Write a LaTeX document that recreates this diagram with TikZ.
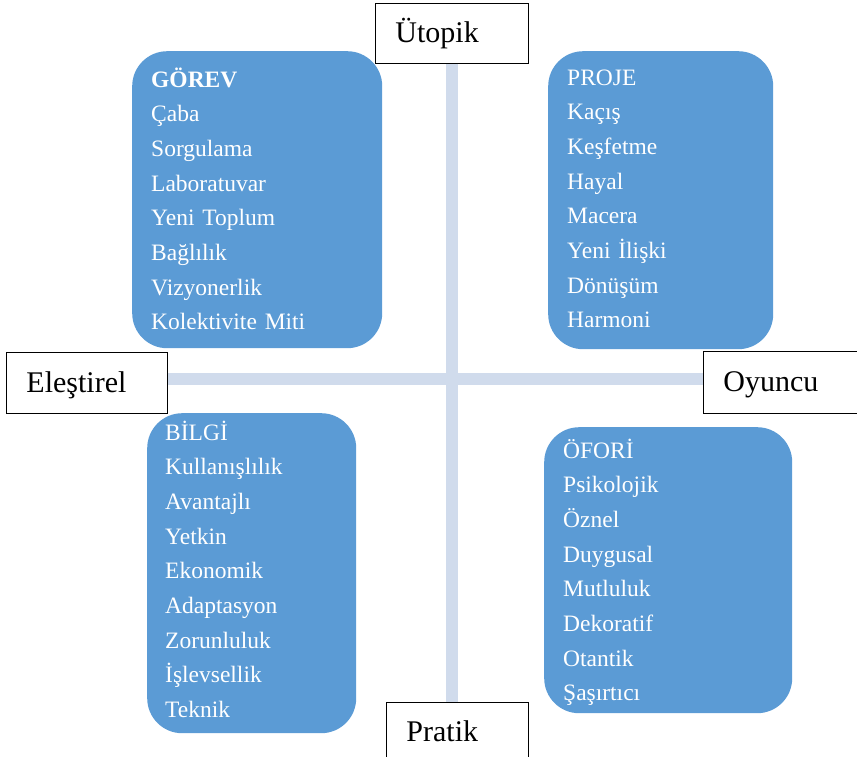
\documentclass[tikz,border=0pt]{standalone}
\usepackage{fontspec}
\setmainfont{Liberation Serif}
\usetikzlibrary{positioning,calc}
\definecolor{boxblue}{RGB}{91,155,213}
\definecolor{barblue}{RGB}{208,219,236}
\definecolor{labelblack}{RGB}{0,0,0}

\begin{document}
\begin{tikzpicture}[x=1pt, y=-1pt,
  axislabel/.style={draw=labelblack, line width=0.9pt, fill=white, anchor=north west,
    inner xsep=20pt, inner ysep=0pt, align=left, text height=25pt, text depth=6pt,
    font=\fontsize{30}{34}\selectfont},
  quadrant/.style={fill=boxblue, rounded corners=35pt, anchor=north west, inner sep=0pt},
  wordlist/.style={text=white, anchor=base west, inner sep=0pt, align=left,
    text width=5.5cm, font=\fontsize{23.5}{34.7}\selectfont}]

% Canvas
\useasboundingbox (0,0) rectangle (857,756);

% Axis labels
\node[axislabel, text width=113pt, minimum height=60pt] (utopik) at (375,3) {Ütopik};
\node[axislabel, text width=121pt, minimum height=61pt] (elestirel) at (6,352) {Eleştirel};
\node[axislabel, text width=120pt, minimum height=62pt] (oyuncu) at (703,351) {Oyuncu};
\node[axislabel, text width=102pt, minimum height=60pt] (pratik) at (386,702) {Pratik};

% Axes
\coordinate (origin) at (452,379);
\draw[barblue, line width=12pt] (origin |- utopik.south) -- (origin |- pratik.north);
\draw[barblue, line width=12pt] (elestirel.east |- origin) -- (oyuncu.west |- origin);

% Quadrants
\node[quadrant, minimum width=250pt, minimum height=297pt] (gorev) at (132,51) {};
\node[wordlist] (gorevlist) at (151,87)
  {\textbf{GÖREV}\\Çaba\\Sorgulama\\Laboratuvar\\Yeni Toplum\\Bağlılık\\Vizyonerlik\\Kolektivite Miti};

\node[quadrant, minimum width=225pt, minimum height=298pt] (proje) at (548,51) {};
\node[wordlist] (projelist) at (567,85)
  {PROJE\\Kaçış\\Keşfetme\\Hayal\\Macera\\Yeni İlişki\\Dönüşüm\\Harmoni};

\node[quadrant, minimum width=209pt, minimum height=320pt] (bilgi) at (147,413) {};
\node[wordlist] (bilgilist) at (165,440)
  {BİLGİ\\Kullanışlılık\\Avantajlı\\Yetkin\\Ekonomik\\Adaptasyon\\Zorunluluk\\İşlevsellik\\Teknik};

\node[quadrant, minimum width=248pt, minimum height=286pt] (ofori) at (544,427) {};
\node[wordlist] (oforilist) at (563,458)
  {ÖFORİ\\Psikolojik\\Öznel\\Duygusal\\Mutluluk\\Dekoratif\\Otantik\\Şaşırtıcı};

\end{tikzpicture}
\end{document}
